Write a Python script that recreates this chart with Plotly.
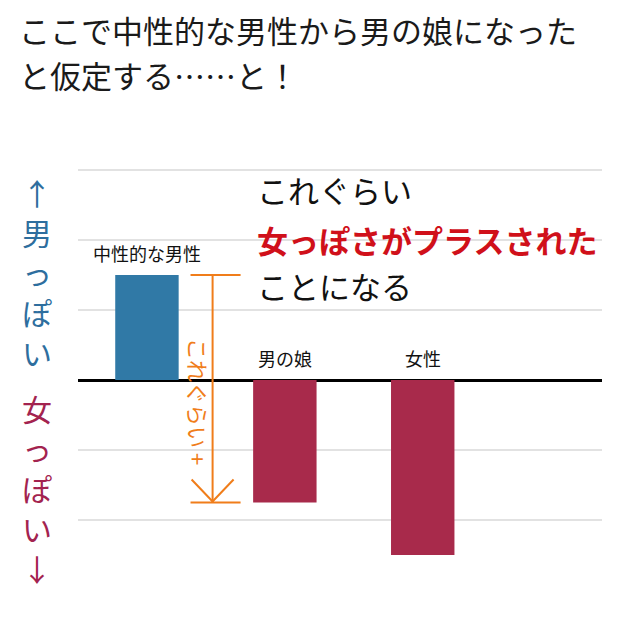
import plotly.graph_objects as go

# ---- data ----
categories = ["中性的な男性", "男の娘", "女性"]
values = [1.5, -1.75, -2.5]
bar_colors = ["#3079A6", "#A82A4B", "#A82A4B"]
grid_ticks = [3, 2, 1, 0, -1, -2]

title_lines = ["ここで中性的な男性から男の娘になった", "と仮定する……と！"]
note_lines = ["これぐらい", "女っぽさがプラスされた", "ことになる"]
note_colors = ["#111111", "#D0101A", "#111111"]
up_label = "↑男っぽい"
down_label = "女っぽい↓"
arrow_label = "これぐらい +"

FONT = "Noto Sans CJK JP"
ORANGE = "#F07D1A"

# page geometry (pixels, page coordinates); the html body has an 8px margin
OFF = 8
W, H = 640 - OFF, 640 - OFF
L, R, T, B = 78, 602, 163, 590
PW, PH = R - L, B - T


def px(x):
    return (x - L) / PW


def py(y):
    return (B - y) / PH


fig = go.Figure()
fig.add_trace(go.Bar(
    x=list(range(len(categories))), y=values, width=0.46,
    marker=dict(color=bar_colors, line=dict(width=0)),
    hoverinfo="skip", showlegend=False,
))

annotations = []
# category labels above bars / zero line
for i, (c, v) in enumerate(zip(categories, values)):
    annotations.append(dict(
        x=i, y=max(v, 0), xref="x", yref="y", text=c, showarrow=False,
        yanchor="bottom", yshift=7, font=dict(size=18, color="#111111", family=FONT),
    ))

# title
for line, ypix in zip(title_lines, [33, 78]):
    annotations.append(dict(
        x=px(17), y=py(ypix - 4), xref="paper", yref="paper", text=line,
        showarrow=False, xanchor="left", yanchor="middle",
        font=dict(size=31, color="#1a1a1a", family=FONT),
    ))

# note block
for line, col, ypix in zip(note_lines, note_colors, [192, 241, 287]):
    txt = f"<b>{line}</b>" if col != "#111111" else line
    annotations.append(dict(
        x=px(255), y=py(ypix - 2), xref="paper", yref="paper", text=txt,
        showarrow=False, xanchor="left", yanchor="middle",
        font=dict(size=31, color=col, family=FONT),
    ))

# left side vertical labels (one glyph per row)
for label, ystart, col in [(up_label, 192, "#2E6E9E"), (down_label, 408, "#A3234F")]:
    for k, ch in enumerate(label):
        annotations.append(dict(
            x=px(37), y=py(ystart + 40 * k), xref="paper", yref="paper",
            text=ch, showarrow=False, xanchor="center", yanchor="middle",
            borderpad=0, font=dict(size=30, color=col, family=FONT),
        ))

# orange measure annotation
ax_x = 0.476
top_v, bot_v = values[0], values[1]
annotations.append(dict(
    x=0.372, y=(top_v + bot_v) / 2 - 0.18, xref="x", yref="y", text=arrow_label,
    showarrow=False, textangle=90, font=dict(size=22, color=ORANGE, family=FONT),
))

shapes = [
    dict(type="line", xref="x", yref="y", x0=0.316, x1=0.679, y0=top_v, y1=top_v,
         line=dict(color=ORANGE, width=2)),
    dict(type="line", xref="x", yref="y", x0=0.316, x1=0.679, y0=bot_v, y1=bot_v,
         line=dict(color=ORANGE, width=2)),
    dict(type="line", xref="x", yref="y", x0=ax_x, x1=ax_x, y0=top_v, y1=bot_v,
         line=dict(color=ORANGE, width=2)),
    dict(type="path", xref="x", yref="y", xsizemode="pixel", ysizemode="pixel",
         xanchor=ax_x, yanchor=bot_v, path="M -21,23 L 0,1 L 21,23",
         line=dict(color=ORANGE, width=2)),
]

fig.update_layout(
    width=W, height=H,
    margin=dict(l=L - OFF, r=640 - R, t=T - OFF, b=640 - B, pad=0),
    paper_bgcolor="white", plot_bgcolor="white",
    font=dict(family=FONT),
    annotations=annotations, shapes=shapes,
    xaxis=dict(range=[-0.5, 3.3], showgrid=False, showticklabels=False,
               zeroline=False, showline=False, ticks=""),
    yaxis=dict(range=[-3.0, 3.1], tickvals=grid_ticks, showticklabels=False,
               showgrid=True, gridcolor="#E2E2E2", gridwidth=1.5,
               zeroline=True, zerolinecolor="black", zerolinewidth=3,
               showline=False, ticks=""),
)

fig.write_html("out.html")
